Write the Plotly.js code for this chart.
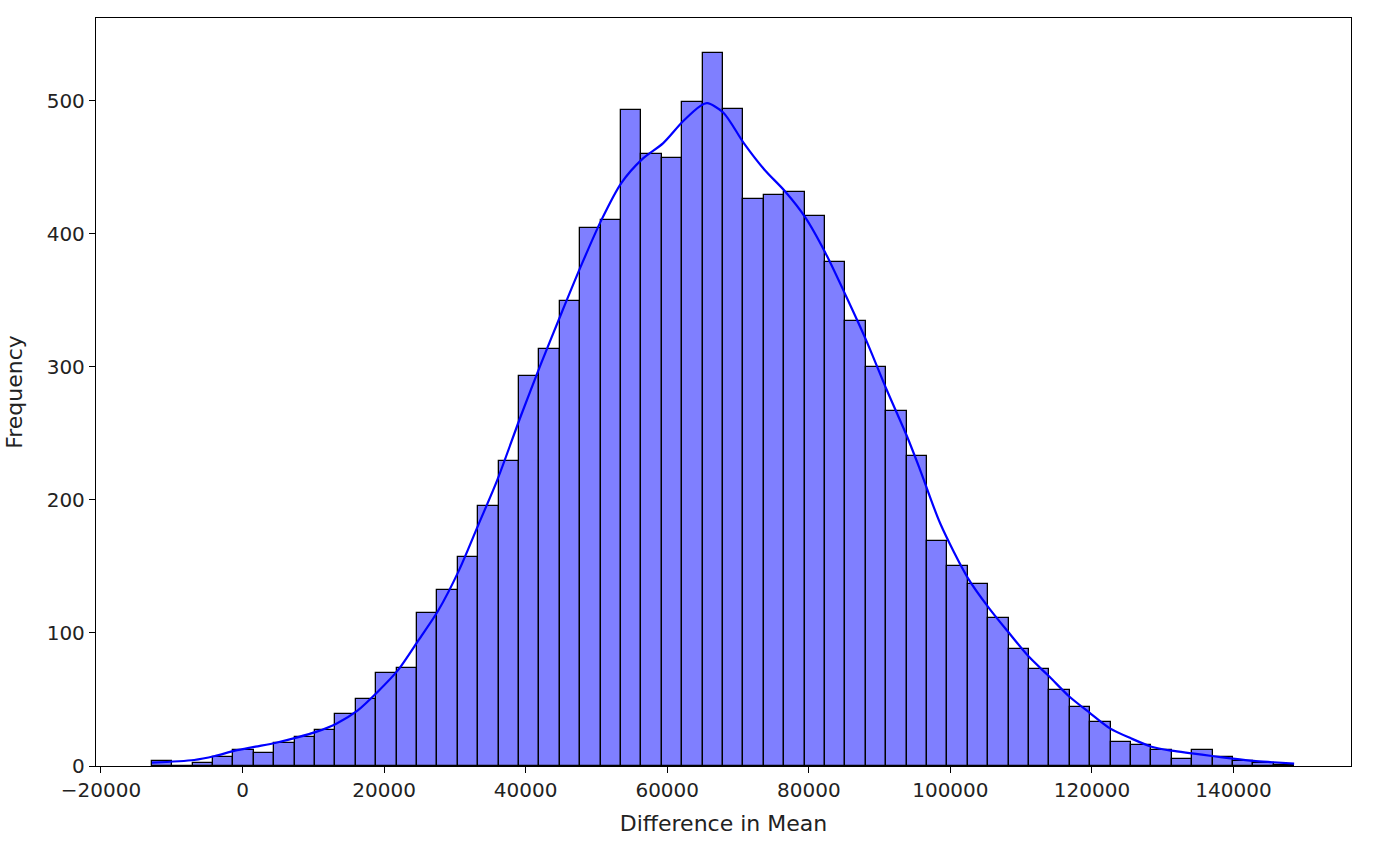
<!DOCTYPE html>
<html>
<head>
<meta charset="utf-8">
<script src="https://cdn.plot.ly/plotly-3.0.1.min.js"></script>
<style>
  html, body { margin: 0; padding: 0; background: #fff; }
  #chart { width: 1400px; height: 841px; }
</style>
</head>
<body>
<div id="chart"></div>
<script>
// histogram bins: first edge and width, then counts per bin
const binStart = -12805;
const binWidth = 2882;
const counts = [
    4, 0, 2, 7, 12, 10, 17, 22, 27, 39,
    50, 70, 74, 115, 132, 157, 195, 229, 293, 313,
    349, 404, 410, 493, 460, 457, 499, 536, 494, 426,
    429, 431, 413, 379, 334, 300, 267, 233, 169, 150,
    137, 111, 88, 73, 57, 44, 33, 18, 16, 12,
    5, 12, 7, 4, 2, 1
];

// kde curve
const kdeX = [
    -12805, -6833, -3911, -1087, 1835, 4744, 7624, 10490, 13313, 16236,
    19144, 21968, 24890, 27671, 30580, 33300, 36000, 39290, 42113, 45036,
    47761, 50726, 53507, 56472, 59437, 62162, 64703, 65648, 67908, 70816,
    73738, 76604, 79527, 82350, 85273, 88097, 91005, 93928, 95763, 98587,
    102497, 105406, 108328, 111109, 114018, 116841, 119764, 122545, 125510, 128418,
    131242, 134122, 136946, 139911, 142819, 145643, 148566
];
const kdeY = [
    2.5, 4.5, 7.5, 11.5, 14.5, 17.5, 21.3, 25.8, 32, 41.6,
    56, 72, 94.7, 117, 147, 181, 215, 262.6, 301.5, 340,
    375, 410.5, 438, 456, 468, 484, 496, 498, 491, 468,
    448, 432, 412, 385.5, 353, 320, 282.7, 247, 222, 182,
    141, 119, 99.7, 82, 67, 52, 39.6, 28.3, 20.8, 14.5,
    11.5, 9.5, 7.5, 5.5, 3.8, 2.8, 1.8
];

const xTicks = [-20000, 0, 20000, 40000, 60000, 80000, 100000, 120000, 140000];
const yTicks = [0, 100, 200, 300, 400, 500];

const centers = counts.map((c, i) => binStart + binWidth * (i + 0.5));

const data = [{
    type: 'bar',
    x: centers,
    y: counts,
    width: binWidth,
    marker: {
        color: 'rgba(0,0,255,0.5)',
        line: { color: '#000', width: 1.3 }
    },
    hoverinfo: 'x+y'
}, {
    type: 'scatter',
    mode: 'lines',
    x: kdeX,
    y: kdeY,
    line: { color: '#0000ff', width: 2.2, shape: 'spline', smoothing: 0.8 },
    hoverinfo: 'skip'
}];

const font = { family: 'DejaVu Sans', size: 20, color: '#222' };
const titleFont = { family: 'DejaVu Sans', size: 22, color: '#222' };

const layout = {
    width: 1400,
    height: 841,
    showlegend: false,
    paper_bgcolor: '#fff',
    plot_bgcolor: '#fff',
    bargap: 0,
    margin: { l: 96, r: 49, t: 18, b: 75, pad: 0 },
    font: font,
    xaxis: {
        range: [-20700, 156600],
        tickvals: xTicks,
        tickformat: 'd',
        ticks: 'outside',
        ticklen: 6,
        tickwidth: 1.3,
        tickcolor: '#000',
        showgrid: false,
        zeroline: false,
        showline: true,
        linecolor: '#000',
        linewidth: 1.3,
        mirror: true,
        tickfont: font,
        title: { text: 'Difference in Mean', font: titleFont, standoff: 14 }
    },
    yaxis: {
        range: [0, 562],
        tickvals: yTicks,
        ticks: 'outside',
        ticklen: 6,
        tickwidth: 1.3,
        tickcolor: '#000',
        showgrid: false,
        zeroline: false,
        showline: true,
        linecolor: '#000',
        linewidth: 1.3,
        mirror: true,
        tickfont: font,
        title: { text: 'Frequency', font: titleFont, standoff: 17 }
    }
};

Plotly.newPlot('chart', data, layout, { displayModeBar: false });
</script>
</body>
</html>
